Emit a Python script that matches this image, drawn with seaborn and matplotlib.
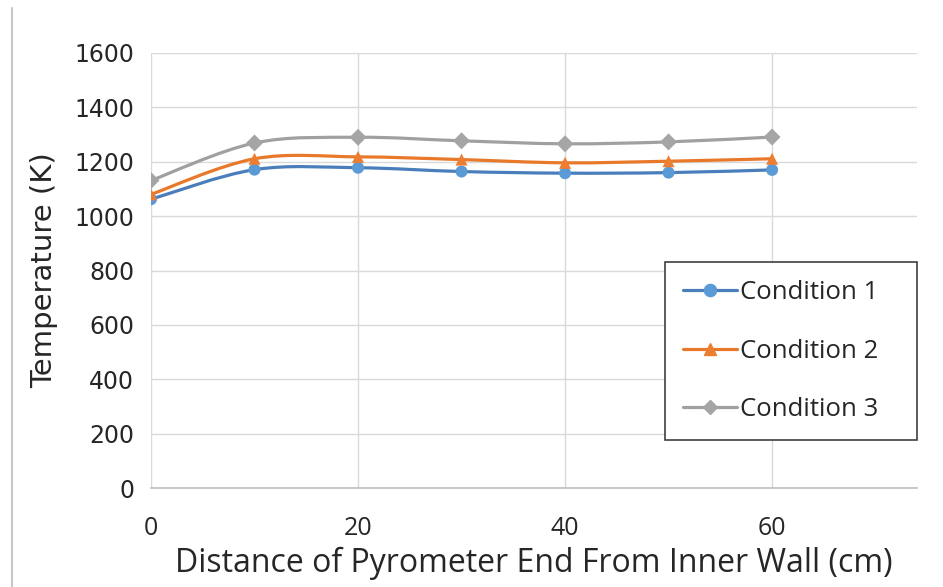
import numpy as np
import pandas as pd
import matplotlib
matplotlib.use("Agg")
import matplotlib.pyplot as plt
from matplotlib.path import Path
from matplotlib.patches import PathPatch
from matplotlib.lines import Line2D
import seaborn as sns

# ---- data ----
distance = [0, 10, 20, 30, 40, 50, 60]
cond1 = [1062, 1171, 1178, 1164, 1158, 1160, 1170]
cond2 = [1080, 1211, 1218, 1208, 1196, 1202, 1211]
cond3 = [1131, 1269, 1290, 1277, 1266, 1273, 1291]
series_names = ["Condition 1", "Condition 2", "Condition 3"]
x_ticks = [0, 20, 40, 60]
y_ticks = [0, 200, 400, 600, 800, 1000, 1200, 1400, 1600]

line_colors = ["#4A7EBB", "#E8782A", "#A0A0A0"]
marker_colors = ["#5B9BD5", "#ED7D31", "#A5A5A5"]
markers = ["o", "^", "D"]
msizes = [8, 8.5, 6.5]

df = pd.DataFrame({
    "distance": distance * 3,
    "temp": cond1 + cond2 + cond3,
    "series": sum([[n] * len(distance) for n in series_names], []),
})

sns.set_theme(style="white")
plt.rcParams["font.family"] = ["DejaVu Sans"]

fig = plt.figure(figsize=(9.43, 5.87), dpi=100)
ax = fig.add_axes([151 / 943, 1 - 488 / 587, (917 - 151) / 943, (488 - 53) / 587])


def smooth_path(xs, ys):
    # Excel-style smoothed line: cubic Bezier segments with Catmull-Rom style control points
    pts = np.column_stack([xs, ys]).astype(float)
    n = len(pts)
    verts = [pts[0]]
    codes = [Path.MOVETO]
    for i in range(n - 1):
        p0 = pts[i - 1] if i > 0 else pts[i]
        p1 = pts[i]
        p2 = pts[i + 1]
        p3 = pts[i + 2] if i + 2 < n else pts[i + 1]
        c1 = p1 + (p2 - p0) / 6.0
        c2 = p2 - (p3 - p1) / 6.0
        verts += [c1, c2, p2]
        codes += [Path.CURVE4] * 3
    return Path(verts, codes)


for name, lc in zip(series_names, line_colors):
    sub = df[df["series"] == name]
    patch = PathPatch(smooth_path(sub["distance"].values, sub["temp"].values),
                      facecolor="none", edgecolor=lc, lw=2.3, zorder=3,
                      capstyle="round", joinstyle="round")
    ax.add_patch(patch)

sns.scatterplot(data=df, x="distance", y="temp", hue="series", style="series",
                palette=dict(zip(series_names, marker_colors)),
                markers=dict(zip(series_names, markers)),
                s=75, edgecolor="none", linewidth=0, zorder=4, legend=False, ax=ax)

ax.set_xlim(0, 74)
ax.set_ylim(0, 1600)
ax.set_xticks(x_ticks)
ax.set_yticks(y_ticks)
ax.grid(True, color="#D9D9D9", lw=1.0)
ax.set_axisbelow(True)
for s in ["top", "right", "left"]:
    ax.spines[s].set_visible(False)
ax.spines["bottom"].set_color("#BFBFBF")
ax.spines["bottom"].set_linewidth(1.2)
ax.tick_params(axis="both", length=0, colors="#262626")
ax.tick_params(axis="y", pad=12)
ax.tick_params(axis="x", pad=20)
for lab in ax.get_yticklabels():
    lab.set_fontsize(17)
for lab in ax.get_xticklabels():
    lab.set_fontsize(18)
    lab.set_fontfamily("Open Sans")

ax.set_xlabel("Distance of Pyrometer End From Inner Wall (cm)", fontsize=23,
              family="Open Sans", color="#262626", labelpad=4)
ax.set_ylabel("Temperature (K)", fontsize=21, color="#262626", labelpad=12)

handles = [Line2D([0], [0], color=lc, lw=2.3, marker=m, markersize=ms * 1.1,
                  markerfacecolor=mc, markeredgecolor=mc)
           for lc, mc, m, ms in zip(line_colors, marker_colors, markers, msizes)]
leg = ax.legend(handles, series_names, loc="center left",
                bbox_to_anchor=((665 - 151) / 766, (488 - 351) / 435,
                                (917 - 665) / 766, 0),
                mode="expand",
                frameon=True, fancybox=False, framealpha=1, edgecolor="#404040",
                prop={"family": "Open Sans", "size": 18.5}, handlelength=2.1,
                handletextpad=0.1, labelspacing=1.3, borderpad=0.7,
                borderaxespad=0)
leg.get_frame().set_linewidth(1.2)
for t in leg.get_texts():
    t.set_color("#262626")

fig.add_artist(Line2D([12 / 943, 12 / 943], [0, 1 - 8 / 587], color="#C8C8C8", lw=1.5))

fig.savefig("out.png", dpi=100, facecolor="white")
